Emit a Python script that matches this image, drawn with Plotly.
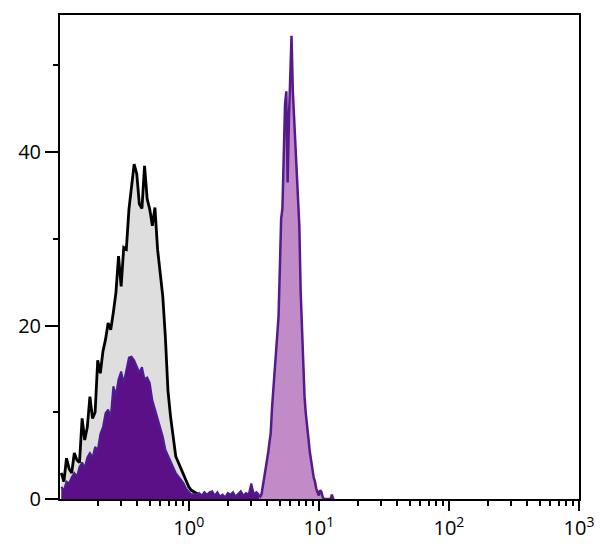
import plotly.graph_objects as go

# bin positions are log10 of fluorescence intensity
iso_log = [
    -0.98, -0.96, -0.94, -0.92, -0.90, -0.88, -0.86, -0.84, -0.82, -0.80,
    -0.78, -0.76, -0.74, -0.72, -0.70, -0.68, -0.66, -0.64, -0.62, -0.60,
    -0.58, -0.56, -0.54, -0.52, -0.50, -0.48, -0.46, -0.44, -0.42, -0.40,
    -0.38, -0.36, -0.34, -0.32, -0.30, -0.28, -0.26, -0.24, -0.22, -0.20,
    -0.18, -0.16, -0.14, -0.12, -0.10, -0.08, -0.06, -0.04, -0.02, 0.00,
    0.02, 0.04, 0.06, 0.08, 0.10, 0.12, 0.14, 0.16,
]
iso_counts = [
    3.0, 2.0, 4.7, 3.5, 3.0, 5.3, 4.5, 4.2, 9.3, 6.8,
    8.3, 11.8, 9.3, 10.0, 16.0, 14.5, 17.0, 18.4, 20.3, 19.5,
    21.5, 23.8, 28.0, 24.5, 29.0, 28.8, 33.4, 36.0, 38.6, 37.5,
    34.0, 33.5, 38.4, 34.6, 33.4, 31.5, 33.6, 28.8, 25.7, 23.4,
    18.7, 12.5, 9.5, 7.2, 4.9, 4.2, 3.5, 3.0, 2.2, 1.4,
    1.0, 0.8, 0.6, 0.5, 0.3, 0.2, 0.1, 0.0,
]

neg_log = [
    -0.98, -0.96, -0.94, -0.92, -0.90, -0.88, -0.86, -0.84, -0.82, -0.80,
    -0.78, -0.76, -0.74, -0.72, -0.70, -0.68, -0.66, -0.64, -0.62, -0.60,
    -0.58, -0.56, -0.54, -0.52, -0.50, -0.48, -0.46, -0.44, -0.42, -0.40,
    -0.38, -0.36, -0.34, -0.32, -0.30, -0.28, -0.26, -0.24, -0.22, -0.20,
    -0.18, -0.16, -0.14, -0.12, -0.10, -0.08, -0.06, -0.04, -0.02, 0.00,
    0.02, 0.04, 0.06, 0.08, 0.10, 0.12, 0.14, 0.16, 0.18, 0.20,
    0.22, 0.24, 0.26, 0.28, 0.30, 0.32, 0.34, 0.36, 0.38, 0.40,
    0.42, 0.44, 0.46, 0.48, 0.50, 0.52, 0.54,
]
neg_counts = [
    1.4, 1.0, 2.0, 1.8, 2.5, 3.0, 2.6, 3.7, 4.2, 3.6,
    4.8, 5.3, 4.8, 6.0, 5.6, 7.5, 8.3, 9.9, 10.3, 9.5,
    13.0, 12.0, 13.8, 14.7, 13.4, 15.0, 16.3, 16.4, 16.0, 15.3,
    14.6, 15.2, 13.8, 14.0, 13.4, 11.4, 10.3, 9.5, 8.3, 7.2,
    5.7, 5.0, 4.5, 3.8, 3.0, 2.6, 2.2, 1.8, 1.2, 0.8,
    0.5, 0.6, 0.5, 0.7, 0.4, 0.8, 0.5, 0.8, 0.9, 0.4,
    0.8, 0.3, 0.5, 0.2, 0.7, 0.5, 0.8, 0.3, 0.6, 0.9,
    0.4, 0.7, 0.5, 1.8, 0.6, 0.8, 0.5,
]

pos_log = [
    0.54, 0.55, 0.56, 0.57, 0.58, 0.59, 0.60, 0.61, 0.62, 0.63,
    0.64, 0.65, 0.66, 0.67, 0.68, 0.69, 0.70, 0.71, 0.72, 0.73,
    0.74, 0.75, 0.76, 0.77, 0.78, 0.79, 0.80, 0.81, 0.82, 0.83,
    0.84, 0.85, 0.86, 0.87, 0.88, 0.89, 0.90, 0.91, 0.92, 0.93,
    0.94, 0.95, 0.96, 0.97, 0.98, 0.99, 1.00, 1.01, 1.02, 1.03,
    1.04, 1.05, 1.06, 1.07, 1.08, 1.09, 1.10, 1.11, 1.12,
]
pos_counts = [
    0.5, 0.3, 0.6, 1.5, 2.2, 3.5, 4.5, 5.3, 6.5, 7.6,
    10.5, 12.5, 14.5, 16.5, 19.0, 21.0, 26.5, 32.3, 33.5, 40.0,
    45.5, 47.0, 36.5, 43.8, 49.0, 53.4, 47.0, 44.0, 41.5, 39.0,
    36.0, 31.5, 24.0, 19.5, 16.9, 11.8, 9.8, 8.0, 7.0, 5.5,
    4.2, 3.5, 2.5, 2.0, 1.2, 0.7, 0.4, 1.0, 0.8, 0.2,
    0.0, 0.0, 0.0, 0.0, 0.0, 0.0, 0.5, 0.0, 0.0,
]

x_major = [1, 10, 100, 1000]
x_major_text = ["10<sup>0</sup>", "10<sup>1</sup>", "10<sup>2</sup>", "10<sup>3</sup>"]
x_minor = [m * d for d in [0.1, 1, 10, 100] for m in range(2, 10)]
y_major = [0, 20, 40]
y_minor = [10, 30, 50]

fig = go.Figure()

fig.add_trace(go.Scatter(
    x=[10 ** v for v in iso_log],
    y=iso_counts,
    mode="lines",
    fill="tozeroy",
    fillcolor="#dedede",
    line=dict(color="black", width=2.8),
    name="isotype",
))
fig.add_trace(go.Scatter(
    x=[10 ** v for v in neg_log],
    y=neg_counts,
    mode="lines",
    fill="tozeroy",
    fillcolor="#5b1087",
    line=dict(color="#4f1d92", width=2),
    name="negative",
))
fig.add_trace(go.Scatter(
    x=[10 ** v for v in pos_log],
    y=pos_counts,
    mode="lines",
    fill="tozeroy",
    fillcolor="#c08bc6",
    line=dict(color="#561a8c", width=2.5),
    name="positive",
))

fig.update_layout(
    width=600,
    height=552,
    margin=dict(l=60, r=21, t=15, b=53),
    plot_bgcolor="white",
    paper_bgcolor="white",
    showlegend=False,
    font=dict(family="Open Sans", size=20, color="black"),
)
fig.update_xaxes(
    type="log",
    range=[-0.99, 3.0],
    automargin=False,
    showgrid=False,
    zeroline=False,
    showline=True,
    mirror=True,
    linecolor="black",
    linewidth=2,
    ticks="outside",
    tickvals=x_major,
    ticktext=x_major_text,
    ticklen=10,
    tickwidth=2,
    tickcolor="black",
    minor=dict(tickvals=x_minor, ticks="outside", ticklen=5, tickwidth=2, tickcolor="black"),
)
fig.update_yaxes(
    range=[0, 55.8],
    automargin=False,
    showgrid=False,
    zeroline=False,
    showline=True,
    mirror=True,
    linecolor="black",
    linewidth=2,
    ticks="outside",
    tickvals=y_major,
    ticklen=13,
    tickwidth=2,
    tickcolor="black",
    minor=dict(tickvals=y_minor, ticks="outside", ticklen=5, tickwidth=2, tickcolor="black"),
)

fig.write_html(
    "out.html",
    config={"displayModeBar": False},
    post_script="document.body.style.margin = '0px';",
)
